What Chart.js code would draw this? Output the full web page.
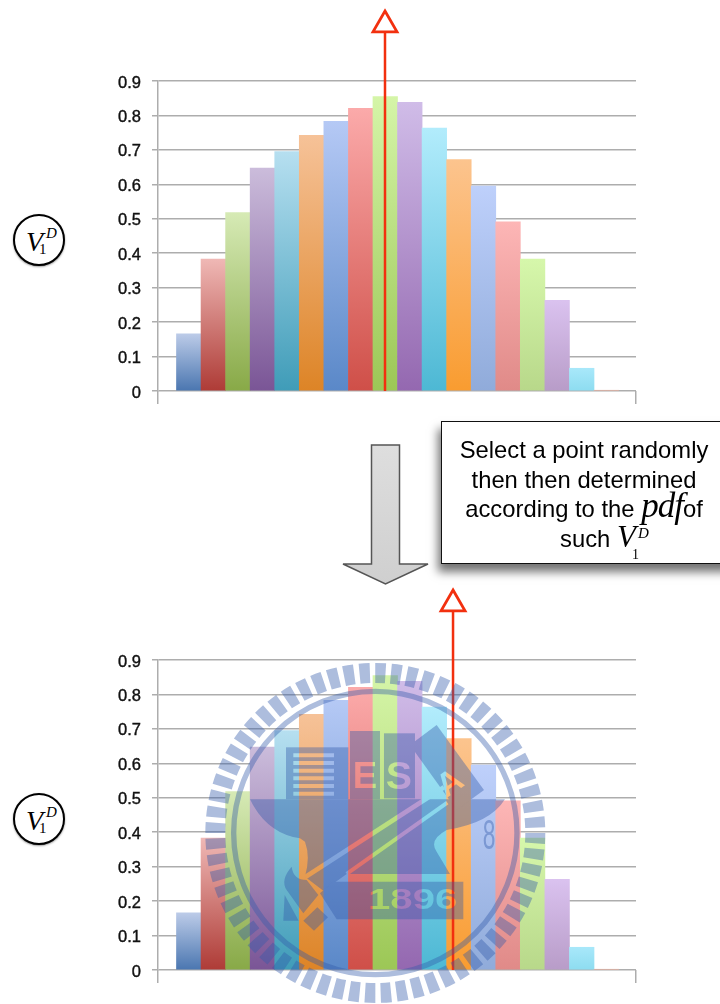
<!DOCTYPE html>
<html>
<head>
<meta charset="utf-8">
<script src="https://cdn.jsdelivr.net/npm/chart.js@4"></script>
<style>
  html, body { margin: 0; padding: 0; background: #fff; }
  #page { position: relative; width: 720px; height: 1004px; overflow: hidden; font-family: "Liberation Sans", Arial, sans-serif; color: #000; }
  canvas { position: absolute; left: 100px; filter: blur(0.35px); }
  #chartTop { top: 0; }
  #chartBottom { top: 579px; }
  .vlabel { position: absolute; left: 13px; width: 48px; height: 48px; border: 2.5px solid #000; border-radius: 50%; background: #fff; box-shadow: 0 1px 2px #999; }
  .math { font-family: "Liberation Serif", serif; font-style: italic; }
  .abs { position: absolute; }
  #callout { position: absolute; left: 441px; top: 421px; width: 290px; height: 141px; background: #fff; border: 1.5px solid #111; box-shadow: -3px 8px 9px rgba(0,0,0,.55); }
  #callout .ln { position: absolute; left: 0; width: 284px; text-align: center; font-size: 23.8px; line-height: 30px; white-space: nowrap; }
  svg { position: absolute; left: 0; top: 0; pointer-events: none; }
</style>
</head>
<body>
<div id="page">
  <canvas id="chartTop" width="560" height="420"></canvas>
  <canvas id="chartBottom" width="560" height="420"></canvas>

  <div class="vlabel" style="top:214px">
    <span class="math abs" style="left:11px;top:10px;font-size:28px">V</span>
    <span class="abs" style="left:24px;top:25px;font:15px 'Liberation Serif',serif">1</span>
    <span class="math abs" style="left:31px;top:9px;font-size:15px">D</span>
  </div>
  <div class="vlabel" style="top:793px">
    <span class="math abs" style="left:11px;top:10px;font-size:28px">V</span>
    <span class="abs" style="left:24px;top:25px;font:15px 'Liberation Serif',serif">1</span>
    <span class="math abs" style="left:31px;top:9px;font-size:15px">D</span>
  </div>

  <svg width="720" height="1004">
    <defs>
      <linearGradient id="arrowFill" x1="0" y1="0" x2="0" y2="1">
        <stop offset="0" stop-color="#dedede"/><stop offset="1" stop-color="#cfcfcf"/>
      </linearGradient>
    </defs>
    <path d="M371.5 445 H399.5 V564 H428 L385.5 584 L343 564 H371.5 Z" fill="url(#arrowFill)" stroke="#555" stroke-width="1.5"/>
  </svg>

  <div id="callout">
    <div class="ln" style="top:13px">Select a point randomly</div>
    <div class="ln" style="top:43px">then then determined</div>
    <div class="ln" style="top:72px">according to the <span class="math" style="font-size:35px;line-height:20px;letter-spacing:-1px">pdf</span>of</div>
    <div class="ln" style="top:102px;left:118px;width:auto">such <span class="math" style="font-size:31px;line-height:20px">V</span></div>
    <span class="abs" style="left:190px;top:125px;font:14px 'Liberation Serif',serif">1</span>
    <span class="math abs" style="left:196px;top:103px;font-size:15px">D</span>
  </div>

  <!-- school seal watermark, sits over everything in the lower chart -->
  <svg width="720" height="1004">
    <defs>
      <mask id="sealCut" maskUnits="userSpaceOnUse" x="0" y="0" width="1110" height="1060">
        <rect x="0" y="0" width="1110" height="1060" fill="#fff"/>
        <g stroke="#000" fill="none">
          <path d="M345 682 L762 412" stroke-width="14"/>
          <path d="M470 672 L772 458" stroke-width="12"/>
          <path d="M310 316H432M310 339H432M310 362H432M310 385H432M310 408H432M310 431H432" stroke-width="12"/>
        </g>
        <g fill="#000" font-family="Liberation Sans" font-weight="bold">
          <text x="525" y="415" font-size="110" text-anchor="middle">E</text>
          <text x="627" y="417" font-size="118" text-anchor="middle">S</text>
          <text x="668" y="778" font-size="88" text-anchor="middle" textLength="268" lengthAdjust="spacingAndGlyphs">1896</text>
          <text transform="translate(798 425) rotate(-35)" font-size="100" text-anchor="middle">A</text>
        </g>
      </mask>
    </defs>
    <g transform="translate(190 650) scale(0.3333)">
      <g opacity="0.4">
        <circle cx="556" cy="549" r="480" fill="none" stroke="#325aaa" stroke-width="60" stroke-dasharray="31 16.1"/>
        <circle cx="556" cy="549" r="425" fill="none" stroke="#325aaa" stroke-width="16"/>
        <g fill="#325aaa" mask="url(#sealCut)">
          <path d="M180 448 H945 Q900 520 770 540 Q715 570 740 605 L780 672 H470 L400 722 L345 680 Q362 620 345 575 L330 565 Q230 550 180 448 Z"/>
          <path d="M740 225 L882 420 L800 480 L660 285 Z"/>
          <rect x="288" y="292" width="187" height="156"/>
          <rect x="480" y="243" width="90" height="205"/>
          <rect x="582" y="250" width="93" height="195"/>
          <path d="M430 695 H820 V808 H440 L390 730 Z"/>
          <path d="M305 650 Q270 690 290 720 L340 790 L385 735 L350 690 Q310 690 305 650 Z"/>
          <path d="M340 812 L382 772 L414 802 L372 842 Z"/>
          <path d="M284 735 L326 812 H280 Z"/>
        </g>
        <text x="897" y="597" font-family="Liberation Sans" font-size="130" fill="#325aaa" text-anchor="middle" textLength="38" lengthAdjust="spacingAndGlyphs">8</text>
      </g>
    </g>
  </svg>
</div>

<script>
const categories = [1, 2, 3, 4, 5, 6, 7, 8, 9, 10, 11, 12, 13, 14, 15, 16, 17, 18];
const pdfValues = [0.166, 0.383, 0.518, 0.647, 0.695, 0.742, 0.783, 0.821, 0.855, 0.838, 0.763, 0.672, 0.595, 0.491, 0.383, 0.263, 0.066, 0.002];
const yTickLabels = ['0', '0.1', '0.2', '0.3', '0.4', '0.5', '0.6', '0.7', '0.8', '0.9'];
const pickedTop = 7.99;
const pickedBottom = 10.76;

const barLight = ['#bccbe8', '#efb8b5', '#d6eab5', '#cbbcdb', '#b6dff0', '#f6c298', '#b5c9f5', '#fbaaaa', '#d5f5a8',
    '#d0bce8', '#b2ecfc', '#fcc48e', '#bed0fb', '#fdb6b6', '#d6f7ab', '#dac2ef', '#a8e8fa', '#e8b0a0'];
const barDark = ['#4a76b0', '#ae3b36', '#88a947', '#7a5596', '#3f9cb8', '#dd8426', '#5a88c8', '#cf4f48', '#9cc756',
    '#9468b0', '#4db8d4', '#f99c30', '#90abda', '#e08a88', '#b8d88a', '#b89cc8', '#8ddcf0', '#e8b0a0'];

const gridColor = '#adadad';
const red = '#f2300f';

function barFill(c) {
    if (c.type !== 'data' || !c.chart.chartArea) return barDark[0];
    const y = c.chart.scales.y;
    const g = c.chart.ctx.createLinearGradient(0, y.getPixelForValue(c.raw.y), 0, y.getPixelForValue(0));
    g.addColorStop(0, barLight[c.dataIndex]);
    g.addColorStop(1, barDark[c.dataIndex]);
    return g;
}

// points above the chart area are not drawn by chart.js, so the head goes on here
const arrowHead = {
    id: 'arrowHead',
    afterDatasetsDraw(chart) {
        const tip = chart.getDatasetMeta(0).data[1];
        const ctx = chart.ctx;
        ctx.save();
        ctx.beginPath();
        ctx.moveTo(tip.x, tip.y - 13.9);
        ctx.lineTo(tip.x + 12, tip.y + 7);
        ctx.lineTo(tip.x - 12, tip.y + 7);
        ctx.closePath();
        ctx.fillStyle = '#fff';
        ctx.strokeStyle = red;
        ctx.lineWidth = 2.8;
        ctx.fill();
        ctx.stroke();
        ctx.restore();
    }
};

function drawChart(id, picked) {
    return new Chart(document.getElementById(id), {
        data: {
            datasets: [
                {
                    type: 'line',
                    order: 0,
                    clip: false,
                    data: [{ x: picked, y: 0 }, { x: picked, y: 1.063 }],
                    borderColor: red,
                    borderWidth: 2.5,
                    pointRadius: 0
                },
                {
                    type: 'bar',
                    order: 1,
                    data: categories.map((c, i) => ({ x: i, y: pdfValues[i] })),
                    backgroundColor: barFill,
                    barPercentage: 1,
                    categoryPercentage: 1
                }
            ]
        },
        plugins: [arrowHead],
        options: {
            responsive: false,
            animation: false,
            layout: { padding: { top: 81, right: 24, left: 0, bottom: 0 } },
            plugins: { legend: { display: false }, tooltip: { enabled: false } },
            scales: {
                x: {
                    type: 'linear',
                    offset: false,
                    min: -1.253,
                    max: 18.21,
                    afterBuildTicks: s => { s.ticks = [{ value: s.min }, { value: s.max }]; },
                    afterFit: s => { s.height = 29; },
                    ticks: { display: false },
                    border: { display: false },
                    grid: { offset: false, drawOnChartArea: false, tickLength: 13, color: gridColor, lineWidth: 1.5 }
                },
                y: {
                    min: 0,
                    max: 0.9,
                    afterFit: s => { s.width = 58; },
                    ticks: {
                        stepSize: 0.1,
                        autoSkip: false,
                        padding: 11,
                        labelOffset: 2,
                        color: '#111',
                        textStrokeColor: '#111',
                        textStrokeWidth: 0.4,
                        font: { family: 'Liberation Sans', size: 16.5 },
                        callback: (v, i) => yTickLabels[i]
                    },
                    border: { color: gridColor, width: 1.5 },
                    grid: { tickLength: 6, color: gridColor, lineWidth: 1.5 }
                }
            }
        }
    });
}

drawChart('chartTop', pickedTop);
drawChart('chartBottom', pickedBottom);
</script>
</body>
</html>
